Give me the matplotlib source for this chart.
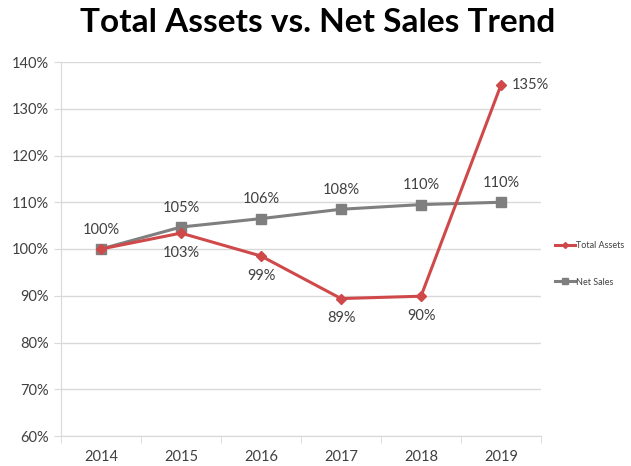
import numpy as np
import matplotlib
matplotlib.use("Agg")
import matplotlib.pyplot as plt
from matplotlib.ticker import FuncFormatter

plt.rcParams['font.family'] = ['Lato', 'DejaVu Sans']

years = ['2014', '2015', '2016', '2017', '2018', '2019']
total_assets = [100.0, 103.4, 98.5, 89.4, 89.9, 135.1]
net_sales = [100.0, 104.7, 106.5, 108.5, 109.5, 110.0]
ta_labels = ['', '103%', '99%', '89%', '90%', '135%']
ns_labels = ['100%', '105%', '106%', '108%', '110%', '110%']

red = '#d0494a'
grey = '#7f7f7f'
txt = '#404040'

fig = plt.figure(figsize=(6.31, 4.66), dpi=100)
ax = fig.add_axes([61/631, 1-436/466, 480/631, 374/466])

x = np.arange(len(years))
ax.plot(x, net_sales, color=grey, lw=2.2, marker='s', ms=7, label='Net Sales', zorder=3)
ax.plot(x, total_assets, color=red, lw=2.2, marker='D', ms=5, label='Total Assets', zorder=4)

for i in range(len(years)):
    if ns_labels[i]:
        ax.annotate(ns_labels[i], (x[i], net_sales[i]), xytext=(0, 9), textcoords='offset points',
                    ha='center', va='bottom', fontsize=10.5, color=txt)
    if ta_labels[i]:
        if i == len(years) - 1:
            ax.annotate(ta_labels[i], (x[i], total_assets[i]), xytext=(8, 0), textcoords='offset points',
                        ha='left', va='center', fontsize=10.5, color=txt)
        else:
            ax.annotate(ta_labels[i], (x[i], total_assets[i]), xytext=(0, -9), textcoords='offset points',
                        ha='center', va='top', fontsize=10.5, color=txt)

ax.set_xlim(-0.5, len(years) - 0.5)
ax.set_ylim(60, 140)
ax.set_yticks(np.arange(60, 141, 10))
ax.yaxis.set_major_formatter(FuncFormatter(lambda v, p: '%d%%' % v))
ax.set_xticks(x)
ax.set_xticklabels(years)
ax.set_xticks(np.arange(-0.5, len(years), 1), minor=True)
ax.tick_params(axis='x', which='major', length=0, pad=10, labelsize=10.5, labelcolor=txt)
ax.tick_params(axis='x', which='minor', length=5, color='#d9d9d9')
ax.tick_params(axis='y', length=5, color='#d9d9d9', labelsize=10.5, labelcolor=txt, pad=4)
ax.grid(axis='y', color='#d9d9d9', lw=1)
ax.set_axisbelow(True)
for s in ['top', 'right']:
    ax.spines[s].set_visible(False)
ax.spines['left'].set_color('#d9d9d9')
ax.spines['bottom'].set_color('#d9d9d9')

handles, labels = ax.get_legend_handles_labels()
fig.legend(handles[::-1], labels[::-1], loc='center left', bbox_to_anchor=(555/631, 1-264/466),
           frameon=False, fontsize=6.5, labelspacing=3.0, handlelength=2.2, handletextpad=0.15,
           borderaxespad=0, borderpad=0, labelcolor=txt, markerscale=0.6)

fig.suptitle('Total Assets vs. Net Sales Trend', x=318/631, y=1-22/466, va='center',
             fontsize=24, fontweight='bold', color='black')

fig.savefig('out.png', dpi=100)
